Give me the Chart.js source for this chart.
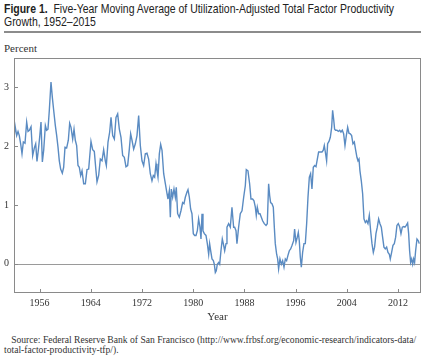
<!DOCTYPE html>
<html>
<head>
<meta charset="utf-8">
<script src="https://cdn.jsdelivr.net/npm/chart.js@4.4.1/dist/chart.umd.min.js"></script>
<style>
  html, body { margin: 0; padding: 0; background: #fff; }
  body { width: 425px; height: 363px; position: relative; overflow: hidden; }
  #title {
    position: absolute; left: 4px; top: 2px; white-space: nowrap;
    font-family: "Liberation Sans", Arial, sans-serif;
    font-size: 13px; line-height: 13px; color: #222;
    transform: scaleX(0.805); transform-origin: left top;
  }
  #title b { font-weight: bold; }
  #rule { position: absolute; left: 4px; top: 31px; width: 417px; height: 2px; background: #8c8c8c; }
  #unit {
    position: absolute; left: 4px; top: 42px;
    font-family: "Liberation Serif", "Times New Roman", serif; font-size: 11px; color: #333;
  }
  #source {
    position: absolute; left: 4px; top: 335px; white-space: nowrap;
    font-family: "Liberation Serif", "Times New Roman", serif; font-size: 9.6px; line-height: 10px; color: #333;
  }
  #wrap { position: absolute; left: 0; top: 0; width: 425px; height: 325px; }
</style>
</head>
<body>
<div id="title"><b>Figure 1.</b>&nbsp; Five-Year Moving Average of Utilization-Adjusted Total Factor Productivity<br>Growth, 1952–2015</div>
<div id="rule"></div>
<div id="unit">Percent</div>
<div id="wrap"><canvas id="tfpChart" width="425" height="325"></canvas></div>
<div id="source">&nbsp;&nbsp;&nbsp;Source: Federal Reserve Bank of San Francisco (http://www.frbsf.org/economic-research/indicators-data/<br>total-factor-productivity-tfp/).</div>
<script>
// Data
const years = [
  1952.00,1952.16,1952.42,1952.63,1952.83,1953.04,1953.25,1953.46,1953.72,1953.98,
  1954.19,1954.40,1954.66,1954.92,1955.18,1955.39,1955.59,1955.80,1956.01,1956.22,
  1956.43,1956.64,1956.90,1957.10,1957.31,1957.52,1957.78,1957.99,1958.20,1958.46,
  1958.67,1958.88,1959.08,1959.29,1959.55,1959.76,1959.97,1960.23,1960.49,1960.70,
  1960.91,1961.17,1961.38,1961.58,1961.79,1962.00,1962.21,1962.42,1962.63,1962.89,
  1963.15,1963.41,1963.67,1964.03,1964.29,1964.55,1964.81,1964.97,1965.23,1965.49,
  1965.75,1966.01,1966.27,1966.43,1966.69,1966.95,1967.16,1967.42,1967.68,1967.94,
  1968.20,1968.46,1968.72,1968.98,1969.24,1969.50,1969.76,1970.02,1970.23,1970.44,
  1970.70,1970.96,1971.22,1971.48,1971.74,1972.00,1972.26,1972.52,1972.78,1973.04,
  1973.30,1973.56,1973.77,1973.98,1974.19,1974.34,1974.50,1974.71,1974.92,1975.13,
  1975.39,1975.65,1975.91,1976.06,1976.27,1976.43,1976.58,1976.79,1977.00,1977.21,
  1977.36,1977.57,1977.83,1978.09,1978.35,1978.56,1978.77,1979.03,1979.19,1979.40,
  1979.60,1979.81,1980.02,1980.23,1980.44,1980.65,1980.85,1981.06,1981.22,1981.38,
  1981.53,1981.74,1982.00,1982.21,1982.42,1982.57,1982.73,1982.94,1983.15,1983.30,
  1983.46,1983.61,1983.77,1983.98,1984.14,1984.34,1984.55,1984.71,1984.92,1985.13,
  1985.28,1985.54,1985.80,1986.06,1986.32,1986.48,1986.69,1986.84,1987.10,1987.36,
  1987.63,1987.89,1988.15,1988.30,1988.56,1988.82,1989.03,1989.29,1989.50,1989.71,
  1989.86,1990.02,1990.23,1990.44,1990.65,1990.85,1991.11,1991.38,1991.58,1991.79,
  1991.95,1992.10,1992.31,1992.52,1992.68,1992.83,1993.04,1993.20,1993.35,1993.56,
  1993.77,1993.98,1994.19,1994.40,1994.60,1994.81,1995.02,1995.23,1995.44,1995.70,
  1995.85,1996.06,1996.27,1996.43,1996.58,1996.74,1996.90,1997.10,1997.31,1997.52,
  1997.73,1997.94,1998.15,1998.35,1998.56,1998.77,1998.98,1999.19,1999.40,1999.60,
  1999.86,2000.13,2000.33,2000.49,2000.65,2000.85,2001.01,2001.22,2001.43,2001.64,
  2001.79,2001.95,2002.10,2002.26,2002.47,2002.68,2002.89,2003.09,2003.30,2003.51,
  2003.72,2003.93,2004.14,2004.34,2004.55,2004.76,2004.97,2005.18,2005.39,2005.59,
  2005.75,2005.91,2006.06,2006.27,2006.48,2006.69,2006.90,2007.10,2007.31,2007.52,
  2007.73,2007.94,2008.15,2008.35,2008.56,2008.77,2008.98,2009.19,2009.40,2009.60,
  2009.81,2010.02,2010.23,2010.44,2010.65,2010.80,2011.01,2011.22,2011.43,2011.64,
  2011.84,2012.05,2012.26,2012.47,2012.68,2012.89,2013.09,2013.30,2013.51,2013.67,
  2013.82,2013.98,2014.14,2014.30,2014.45,2014.60,2014.76,2014.97,2015.18,2015.33
];

// TFP growth, percent
const tfpGrowth = [
  2.12,2.35,2.18,2.25,2.18,2.04,1.87,2.07,2.05,2.41,
  2.25,2.27,2.33,1.84,1.97,2.04,1.74,1.93,2.15,2.41,
  1.73,1.93,2.35,2.27,2.29,2.61,3.09,2.83,2.61,2.35,
  2.18,1.98,1.75,1.61,1.54,1.64,1.98,1.97,2.10,2.39,
  2.32,2.12,2.29,2.10,2.01,1.67,1.64,1.50,1.58,1.36,
  1.36,1.60,1.61,2.08,1.94,1.91,1.58,1.39,1.50,1.78,
  1.75,1.94,1.75,1.67,2.07,2.24,2.49,2.18,2.12,2.49,
  2.55,2.29,2.15,1.84,1.81,1.65,1.67,1.95,2.21,2.10,
  1.95,2.04,2.18,2.52,2.01,1.75,1.67,1.87,1.88,1.78,
  1.53,1.41,1.50,1.47,1.70,1.58,1.47,1.87,2.03,1.93,
  1.53,1.36,1.19,1.10,1.24,0.79,1.27,1.13,1.27,1.13,
  1.30,0.85,0.79,0.90,1.04,1.02,1.13,1.22,1.26,1.13,
  0.93,0.85,0.51,0.48,0.48,0.56,0.76,0.62,0.42,0.85,
  0.56,0.51,0.48,0.34,0.16,0.34,0.22,0.08,0.05,-0.01,
  -0.15,-0.12,-0.01,0.02,-0.01,0.22,0.42,0.34,0.22,0.34,
  0.62,0.68,0.62,0.96,0.62,0.62,0.56,0.34,0.62,0.85,
  0.90,1.13,1.33,1.60,1.58,1.36,1.10,1.10,1.07,0.96,
  0.82,0.96,0.85,0.85,0.79,0.73,0.68,0.65,0.68,1.36,
  1.16,1.04,1.02,0.96,0.62,0.34,0.16,0.08,-0.09,0.08,
  -0.01,0.05,-0.06,0.08,0.05,0.14,0.22,0.25,0.31,0.39,
  0.59,0.36,0.45,0.53,0.39,0.11,-0.06,0.19,0.34,0.34,
  0.68,1.13,1.47,1.53,1.27,1.64,1.67,1.65,1.78,1.90,
  1.90,1.90,1.93,2.01,1.90,1.75,2.04,2.08,2.15,2.32,
  2.61,2.46,2.29,2.27,2.27,2.25,2.27,2.24,2.27,2.21,
  2.01,2.18,2.32,2.22,2.21,2.18,2.04,2.07,1.93,1.81,
  1.75,1.78,1.58,1.41,1.19,0.76,0.70,0.73,0.68,0.82,
  0.56,0.34,0.19,0.28,0.51,0.62,0.76,0.68,0.62,0.45,
  0.28,0.25,0.28,0.19,0.16,0.08,0.19,0.31,0.34,0.45,
  0.65,0.68,0.63,0.51,0.62,0.63,0.62,0.65,0.69,0.51,
  0.22,0.02,0.08,-0.01,0.08,0.02,0.22,0.42,0.39,0.34
];

const xTickYears = [1956, 1964, 1972, 1980, 1988, 1996, 2004, 2012];
const yTickValues = [0, 1, 2, 3];

const AXIS_GREY = '#8a8a8a';

// Box frame, zero line and inward tick marks
const framePlugin = {
    id: 'frame',
    beforeDatasetsDraw(chart) {
        const { ctx, chartArea: a, scales: { y } } = chart;
        const y0 = Math.round(y.getPixelForValue(0)) + 0.5;
        ctx.save();
        ctx.strokeStyle = '#9a9a9a';
        ctx.lineWidth = 1;
        ctx.beginPath();
        ctx.moveTo(a.left, y0);
        ctx.lineTo(a.right, y0);
        ctx.stroke();
        ctx.restore();
    },
    afterDraw(chart) {
        const { ctx, chartArea: a, scales: { x, y } } = chart;
        ctx.save();
        ctx.strokeStyle = AXIS_GREY;
        ctx.lineWidth = 1;
        ctx.strokeRect(a.left + 0.5, a.top + 0.5, a.right - a.left - 1, a.bottom - a.top - 1);
        ctx.beginPath();
        xTickYears.forEach(v => {
            const px = Math.round(x.getPixelForValue(v)) + 0.5;
            ctx.moveTo(px, a.bottom);
            ctx.lineTo(px, a.bottom - 4);
        });
        yTickValues.forEach(v => {
            const py = Math.round(y.getPixelForValue(v)) + 0.5;
            ctx.moveTo(a.left, py);
            ctx.lineTo(a.left + 4, py);
        });
        ctx.stroke();
        ctx.restore();
    }
};

const ctx = document.getElementById('tfpChart').getContext('2d');
const tfpChart = new Chart(ctx, {
    type: 'line',
    data: {
        datasets: [{
            data: years.map((yr, i) => ({ x: yr, y: tfpGrowth[i] })),
            borderColor: '#5a8bc2',
            borderWidth: 1.4,
            pointRadius: 0,
            tension: 0,
            fill: false
        }]
    },
    options: {
        responsive: false,
        animation: false,
        layout: { padding: { left: 0, right: 4, top: 58, bottom: 0 } },
        plugins: {
            legend: { display: false },
            tooltip: { enabled: false }
        },
        scales: {
            x: {
                type: 'linear',
                min: 1952,
                max: 2015.6,
                grid: { display: false, drawTicks: false },
                border: { display: false },
                afterBuildTicks: scale => { scale.ticks = xTickYears.map(v => ({ value: v })); },
                afterFit: scale => { scale.height = 32; },
                ticks: {
                    color: '#333',
                    font: { family: "'Liberation Serif', serif", size: 10 },
                    padding: 4,
                    maxRotation: 0,
                    autoSkip: false,
                    callback: v => String(v)
                },
                title: {
                    display: true,
                    text: 'Year',
                    color: '#333',
                    font: { family: "'Liberation Serif', serif", size: 11 },
                    padding: { top: 0, bottom: 1 }
                }
            },
            y: {
                min: -0.5,
                max: 3.5,
                grid: { display: false, drawTicks: false },
                border: { display: false },
                afterBuildTicks: scale => { scale.ticks = yTickValues.map(v => ({ value: v })); },
                afterFit: scale => { scale.width = 14; },
                ticks: {
                    color: '#333',
                    font: { family: "'Liberation Serif', serif", size: 10 },
                    padding: 5,
                    callback: v => String(v)
                }
            }
        }
    },
    plugins: [framePlugin]
});
</script>
</body>
</html>
